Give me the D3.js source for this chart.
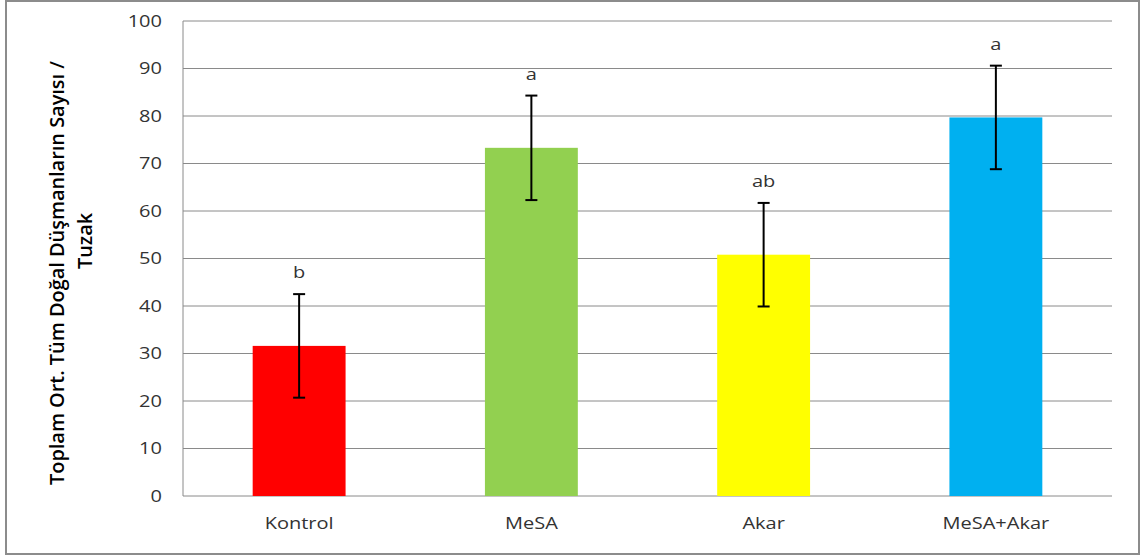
<!DOCTYPE html>
<html>
<head>
<meta charset="utf-8">
<script src="https://cdn.jsdelivr.net/npm/d3@7"></script>
<style>
  body { margin: 0; background: #fff; }
  text { font-family: "Open Sans", "DejaVu Sans", sans-serif; }
</style>
</head>
<body>
<div id="chart"></div>
<script>
// data
var categories = ["Kontrol", "MeSA", "Akar", "MeSA+Akar"];
var means = [31.6, 73.3, 50.8, 79.7];
var errors = [10.9, 11.0, 10.9, 10.9];
var letters = ["b", "a", "ab", "a"];
var colors = ["#ff0000", "#92d050", "#ffff00", "#00b0f0"];
var yTicks = [0, 10, 20, 30, 40, 50, 60, 70, 80, 90, 100];

var width = 1144, height = 558;
var margin = {top: 21, right: 32, bottom: 62, left: 183};
var stretch = 1.25; // the source text is a bit wide

var svg = d3.select("#chart").append("svg")
    .attr("width", width)
    .attr("height", height);

// outer frame
svg.append("rect")
    .attr("x", 6).attr("y", 1)
    .attr("width", 1133).attr("height", 553)
    .attr("fill", "#fff")
    .attr("stroke", "#8c8c8c")
    .attr("stroke-width", 2);

var x = d3.scaleBand()
    .domain(categories)
    .range([margin.left, width - margin.right])
    .paddingInner(0.6)
    .paddingOuter(0.3);

var y = d3.scaleLinear()
    .domain([0, 100])
    .range([height - margin.bottom, margin.top]);

// grid
svg.append("g")
  .selectAll("line")
  .data(yTicks)
  .enter().append("line")
    .attr("x1", margin.left)
    .attr("x2", width - margin.right)
    .attr("y1", function(d) { return y(d); })
    .attr("y2", function(d) { return y(d); })
    .attr("stroke", "#8a8a8a")
    .attr("stroke-width", 1);

// y axis line
svg.append("line")
    .attr("x1", margin.left).attr("x2", margin.left)
    .attr("y1", y(0)).attr("y2", y(100))
    .attr("stroke", "#8a8a8a");

var yAxis = svg.append("g")
    .attr("transform", "translate(" + margin.left + ",0)")
    .call(d3.axisLeft(y).tickValues(yTicks).tickSize(0).tickPadding(21));
yAxis.select(".domain").remove();
yAxis.selectAll("text")
    .style("font-size", "16px")
    .attr("fill", "#333")
    .attr("x", -21 / stretch)
    .attr("transform", "scale(" + stretch + ",1)");

var xAxis = svg.append("g")
    .attr("transform", "translate(0," + y(0) + ")")
    .call(d3.axisBottom(x).tickSize(0).tickPadding(22));
xAxis.select(".domain").remove();
xAxis.selectAll("text")
    .style("font-size", "16px")
    .attr("fill", "#333")
    .attr("transform", "scale(" + stretch + ",1)");

// bars
svg.append("g")
  .selectAll("rect")
  .data(categories)
  .enter().append("rect")
    .attr("x", function(d) { return x(d); })
    .attr("y", function(d, i) { return y(means[i]); })
    .attr("width", x.bandwidth())
    .attr("height", function(d, i) { return y(0) - y(means[i]); })
    .attr("fill", function(d, i) { return colors[i]; });

// error bars
var eb = svg.append("g").attr("stroke", "#000").attr("stroke-width", 2);
categories.forEach(function(c, i) {
  var cx = x(c) + x.bandwidth() / 2;
  var hi = y(means[i] + errors[i]), lo = y(means[i] - errors[i]);
  eb.append("line").attr("x1", cx).attr("x2", cx).attr("y1", hi).attr("y2", lo);
  eb.append("line").attr("x1", cx - 6).attr("x2", cx + 6).attr("y1", hi).attr("y2", hi);
  eb.append("line").attr("x1", cx - 6).attr("x2", cx + 6).attr("y1", lo).attr("y2", lo);
});

// significance letters
svg.append("g")
  .selectAll("text")
  .data(categories)
  .enter().append("text")
    .attr("transform", function(d, i) {
      return "translate(" + (x(d) + x.bandwidth() / 2) + "," + (y(means[i] + errors[i]) - 16) + ") scale(" + stretch + ",1)";
    })
    .attr("text-anchor", "middle")
    .style("font-size", "16px")
    .attr("fill", "#333")
    .text(function(d, i) { return letters[i]; });

// y axis title
svg.append("text")
    .attr("transform", "translate(64,273) rotate(-90)")
    .attr("text-anchor", "middle")
    .style("font-size", "19px")
    .style("font-weight", "600")
    .attr("fill", "#000")
    .attr("textLength", 424).attr("lengthAdjust", "spacingAndGlyphs")
    .text("Toplam Ort. Tüm Doğal Düşmanların Sayısı /");
svg.append("text")
    .attr("transform", "translate(92,241) rotate(-90)")
    .attr("text-anchor", "middle")
    .style("font-size", "19px")
    .style("font-weight", "600")
    .attr("fill", "#000")
    .attr("textLength", 56).attr("lengthAdjust", "spacingAndGlyphs")
    .text("Tuzak");
</script>
</body>
</html>
